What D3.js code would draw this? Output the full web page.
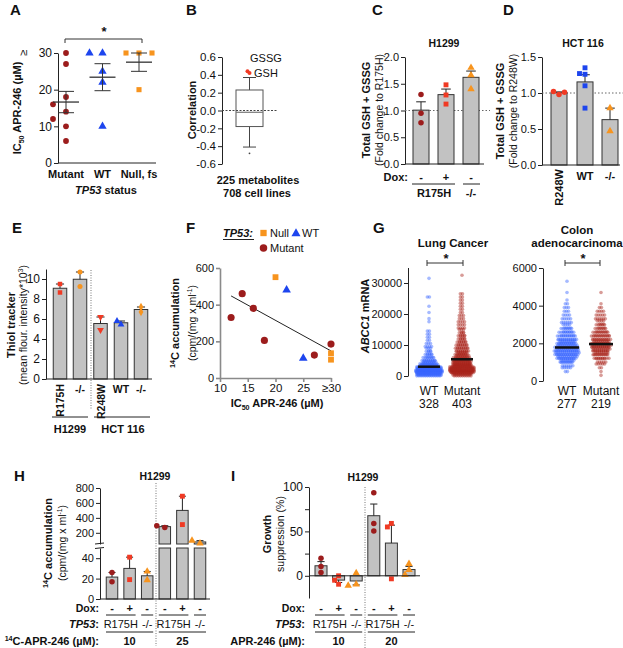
<!DOCTYPE html>
<html>
<head>
<meta charset="utf-8">
<script src="https://cdn.jsdelivr.net/npm/d3@7"></script>
<style>
  body { margin: 0; background: #fff; }
  svg { font-family: "Liberation Sans", Arial, Helvetica, sans-serif; }
  text { fill: #111; }
</style>
</head>
<body>
<script>
// ---- values ----

// A: IC50 of APR-246 by TP53 status
var aGroups = ["Mutant", "WT", "Null, fs"];
var aMutant = [30, 27, 18, 16, 14, 12, 10, 6];
var aWT = [30, 30, 25, 22, 10];
var aNull = [30, 30, 30, 20];

// B: correlation with APR-246 sensitivity, 225 metabolites
var bBox = [-0.41, -0.18, -0.02, 0.23, 0.37]; // low whisker, q1, median, q3, high whisker
var bOutliers = [-0.48];
var bHighlight = [0.44, 0.42];
var bHighlightNames = ["GSSG", "GSH"];

// C: H1299, fold change to R175H
var cDox = ["-", "+", "-"];
var cPoints = [[1.30, 0.95, 0.77], [1.48, 1.29, 1.12], [1.80, 1.66, 1.40]];

// D: HCT 116, fold change to R248W
var dGroups = ["R248W", "WT", "-/-"];
var dPoints = [[0.98, 1.02, 1.01], [1.35, 1.26, 1.27, 1.10, 0.79], [0.79, 0.47]];

// E: thiol tracker
var eGroups = ["R175H", "-/-", "R248W", "WT", "-/-"];
var ePoints = [[9.5, 8.65], [10.7, 9.25], [6.2, 4.9], [5.45, 5.8], [7.2, 6.7]];

// F: 14C accumulation vs IC50
var fMutantIC50 = [12, 14, 16, 18, 27, 30];
var fMutantAcc = [330, 460, 380, 205, 125, 185];
var fNullIC50 = [20, 30, 30];
var fNullAcc = [550, 135, 100];
var fWTIC50 = [22, 25];
var fWTAcc = [480, 108];

// G: ABCC1 mRNA, counts of samples per expression bin
var gLungN = ["328", "403"];
var gLungBin = 1000; // bins start at 0
var gLungWT = [60, 90, 70, 35, 20, 12, 8, 6, 5, 4, 3, 2, 2, 2, 2, 0, 0, 1, 1, 0, 1, 0, 1, 0, 0, 2, 0, 0, 0, 0, 0, 1];
var gLungMut = [37, 70, 60, 45, 35, 25, 20, 16, 14, 12, 10, 8, 7, 6, 5, 4, 4, 4, 3, 3, 2, 2, 2, 2, 2, 2, 2, 0, 0, 0, 0, 0, 1];
var gLungMeans = [3000, 5400];
var gColonN = ["277", "219"];
var gColonBin = 200;
var gColonWTStart = 400;
var gColonWT = [2, 5, 12, 22, 30, 37, 34, 30, 25, 20, 15, 11, 8, 6, 5, 4, 3, 3, 2, 1, 0, 1, 0, 0, 1];
var gColonMutStart = 200;
var gColonMut = [1, 1, 2, 5, 10, 16, 22, 26, 29, 24, 20, 16, 12, 9, 7, 6, 5, 4, 2, 1, 0, 0, 1];
var gColonMeans = [1780, 1960];

// H: 14C-APR-246 accumulation, H1299
var hDox = ["-", "+", "-", "-", "+", "-"];
var hPoints = [[26, 17], [41, 19], [27, 18.5], [270, 295], [690, 310], [60, 95]];
var hDose = ["10", "25"];

// I: growth suppression, H1299
var iDox = ["-", "+", "-", "-", "+", "-"];
var iPoints = [[19.8, 10.4, 3.7], [0, -5, -9.5], [3, -9.5, -11], [93.5, 59, 50.5], [59, 55, -3.4], [13.4, 6.7, 1.1]];
var iDose = ["10", "20"];

// ---- drawing ----
var cMut = "#9c1c1c", cRed = "#f03a24", cBlue = "#1d45ee", cOrange = "#f7941e";
var gBlue = "#3a66ff", gRed = "#a8241a";
var barFill = "#c2c2c2";

var svg = d3.select("body").append("svg").attr("width", 623).attr("height", 648);

function line(x1, y1, x2, y2, o) {
  o = o || {};
  return svg.append("line").attr("x1", x1).attr("y1", y1).attr("x2", x2).attr("y2", y2)
    .attr("stroke", o.color || "#222").attr("stroke-width", o.w || 1)
    .attr("stroke-dasharray", o.dash || null);
}

function label(x, y, parts, o) {
  o = o || {};
  var size = o.size || 11;
  var t = svg.append("text").attr("x", x).attr("y", y).attr("font-size", size)
    .attr("font-weight", o.bold ? "bold" : "normal").attr("text-anchor", o.anchor || "middle");
  if (o.rotate) t.attr("transform", "rotate(-90," + x + "," + y + ")");
  if (typeof parts === "string") parts = [[parts]];
  var shift = 0;
  parts.forEach(function (p) {
    var s = t.append("tspan").text(p[0]);
    var want = 0;
    if (p[1] === "sub") want = size * 0.3;
    if (p[1] === "sup") want = -size * 0.4;
    if (p[1] === "sub" || p[1] === "sup") s.attr("font-size", size * 0.65);
    if (p[1] === "i") s.attr("font-style", "italic");
    if (p[1] === "n") s.attr("font-weight", "normal");
    if (want !== shift) { s.attr("dy", want - shift); shift = want; }
  });
  return t;
}

function yAxis(x, scale, ticks, fmt, o) {
  o = o || {};
  var ax = d3.axisLeft(scale).tickValues(ticks).tickSize(4).tickSizeOuter(0).tickPadding(2);
  if (fmt) ax.tickFormat(fmt);
  var g = svg.append("g").attr("transform", "translate(" + x + ",0)").call(ax);
  g.attr("font-family", null).attr("font-size", o.size || 11);
  g.selectAll("path, line").attr("stroke", o.color || "#222").attr("stroke-width", o.w || 1);
  return g;
}

var SYM = { circle: d3.symbolCircle, square: d3.symbolSquare, triangle: d3.symbolTriangle,
  down: d3.symbolTriangle, diamond: d3.symbolDiamond };
function mark(x, y, shape, color, size) {
  svg.append("path").attr("d", d3.symbol(SYM[shape], size)())
    .attr("transform", "translate(" + x + "," + y + ")" + (shape === "down" ? " rotate(180)" : ""))
    .attr("fill", color);
}

// spread points that would overlap
function dodge(ys, minD, step) {
  var placed = [];
  return ys.map(function (y) {
    var ks = [0, -1, 1, -2, 2, -3, 3];
    for (var i = 0; i < ks.length; i++) {
      var x = ks[i] * step;
      if (placed.every(function (p) { return Math.hypot(p[0] - x, p[1] - y) >= minD; })) {
        placed.push([x, y]);
        return x;
      }
    }
    placed.push([0, y]);
    return 0;
  });
}

function stats(vals) {
  return { m: d3.mean(vals), se: d3.deviation(vals) / Math.sqrt(vals.length) };
}

function barSet(xs, y, base, w, sets, shapes, colors, msize, o) {
  o = o || {};
  sets.forEach(function (vals, i) {
    var cx = xs[i], s = stats(vals);
    var y0 = y(base), y1 = y(s.m);
    svg.append("rect").attr("x", cx - w / 2).attr("y", Math.min(y0, y1))
      .attr("width", w).attr("height", Math.abs(y1 - y0))
      .attr("fill", barFill).attr("stroke", "#333").attr("stroke-width", 1);
    var ye = y(s.m >= base ? s.m + s.se : s.m - s.se);
    line(cx, y1, cx, ye);
    line(cx - w * 0.3, ye, cx + w * 0.3, ye);
    var offs = dodge(vals.map(y), o.minD || 5, o.step || 4);
    vals.forEach(function (v, j) { mark(cx + offs[j], y(v), shapes[i], colors[i], msize); });
  });
}

function letter(x, y, s) { label(x, y, s, { bold: true, size: 15, anchor: "start" }); }

// ===== A =====
letter(10, 15, "A");
var yA = d3.scaleLinear().domain([0, 30]).range([163, 53]);
var xA = d3.scalePoint().domain(aGroups).range([66, 139]);
yAxis(58, yA, [0, 10, 20, 30], null, { size: 12 });
label(27, 53, "≥", { size: 11, rotate: true });
line(58, 163, 156, 163);
[aMutant, aWT, aNull].forEach(function (vals, i) {
  var cx = xA(aGroups[i]);
  var shape = ["circle", "triangle", "square"][i];
  var col = [cMut, cBlue, cOrange][i];
  var offs = dodge(vals.map(yA), 10, 6.5);
  vals.forEach(function (v, j) { mark(cx + offs[j], yA(v), shape, col, shape === "triangle" ? 30 : 26); });
  var s = stats(vals);
  line(cx - 13, yA(s.m), cx + 13, yA(s.m), { w: 1.3, color: "#333" });
  line(cx, yA(s.m - s.se), cx, yA(s.m + s.se), { color: "#333" });
  line(cx - 8, yA(s.m - s.se), cx + 8, yA(s.m - s.se), { color: "#333" });
  line(cx - 8, yA(s.m + s.se), cx + 8, yA(s.m + s.se), { color: "#333" });
  label(cx, 178, aGroups[i], { bold: true });
});
label(21, 108, [["IC"], ["50", "sub"], [" APR-246 (µM)"]], { bold: true, rotate: true });
label(106, 194, [["TP53", "i"], [" status"]], { bold: true });
line(65, 39, 142, 39, { color: "#333" });
line(65, 39, 65, 43, { color: "#333" });
line(142, 39, 142, 43, { color: "#333" });
label(104, 36, "*", { bold: true, size: 13 });

// ===== B =====
letter(186, 15, "B");
var yB = d3.scaleLinear().domain([-0.6, 0.6]).range([164, 57]);
yAxis(222, yB, [-0.6, -0.4, -0.2, 0, 0.2, 0.4, 0.6], function (d) { return d.toFixed(1); }, { size: 11.5 });
line(222, yB(0), 277, yB(0), { dash: "2,1.5", color: "#444" });
var bx = 249.5;
line(bx, yB(bBox[3]), bx, yB(bBox[4]), { color: "#444" });
line(bx, yB(bBox[0]), bx, yB(bBox[1]), { color: "#444" });
line(243, yB(bBox[4]), 256, yB(bBox[4]), { color: "#444" });
line(243, yB(bBox[0]), 256, yB(bBox[0]), { color: "#444" });
svg.append("rect").attr("x", 236).attr("y", yB(bBox[3])).attr("width", 27)
  .attr("height", yB(bBox[1]) - yB(bBox[3])).attr("fill", "none").attr("stroke", "#555");
line(236, yB(bBox[2]), 263, yB(bBox[2]), { color: "#777", w: 1.2 });
bOutliers.forEach(function (v) {
  svg.append("circle").attr("cx", bx).attr("cy", yB(v)).attr("r", 0.9).attr("fill", "#444");
});
bHighlight.forEach(function (v, i) {
  svg.append("circle").attr("cx", bx - 2 + i * 2).attr("cy", yB(v)).attr("r", 2).attr("fill", cRed);
});
label(250, yB(bHighlight[0]) - 9, bHighlightNames[0], { anchor: "start", size: 11 });
label(254, yB(bHighlight[1]) + 4, bHighlightNames[1], { anchor: "start", size: 11 });
label(196, 110, "Correlation", { bold: true, rotate: true });
label(258, 184, "225 metabolites", { bold: true });
label(257, 197, "708 cell lines", { bold: true });

// ===== C =====
letter(372, 15, "C");
var yC = d3.scaleLinear().domain([0, 2]).range([164, 57]);
var xC = [421, 446, 471];
yAxis(405, yC, [0, 0.5, 1, 1.5, 2], function (d) { return d.toFixed(1); });
line(405, yC(1), 490, yC(1), { dash: "1.5,2", color: "#666" });
barSet(xC, yC, 0, 16, cPoints, ["circle", "square", "triangle"], [cMut, cRed, cOrange], 24);
line(405, 164, 484, 164);
label(444, 47, "H1299", { bold: true, size: 10.5 });
label(408, 181, "Dox:", { bold: true, anchor: "end" });
cDox.forEach(function (s, i) { label(xC[i], 181, s, { bold: true }); });
line(412, 184, 455, 184);
line(463, 184, 480, 184);
label(434, 197, "R175H", { bold: true });
label(471, 197, "-/-", { bold: true });
label(370, 110, "Total GSH + GSSG", { bold: true, rotate: true });
label(383, 110, "(Fold change to R175H)", { rotate: true, size: 10.5 });

// ===== D =====
letter(503, 15, "D");
var yD = d3.scaleLinear().domain([0, 1.5]).range([165, 57]);
var xD = [559, 585, 610];
yAxis(542, yD, [0, 0.5, 1, 1.5], function (d) { return d.toFixed(1); });
line(542, yD(1), 623, yD(1), { dash: "1.5,2", color: "#666" });
barSet(xD, yD, 0, 16, dPoints, ["circle", "square", "triangle"], [cRed, cBlue, cOrange], 24, { minD: 5, step: 5.5 });
line(542, 165, 620, 165);
label(583, 47, "HCT 116", { bold: true, size: 10.5 });
label(563, 169, dGroups[0], { bold: true, rotate: true, anchor: "end" });
label(585, 180, dGroups[1], { bold: true });
label(610, 180, dGroups[2], { bold: true });
label(504, 111, "Total GSH + GSSG", { bold: true, rotate: true });
label(517, 111, "(Fold change to R248W)", { rotate: true, size: 10.5 });

// ===== E =====
letter(12, 233, "E");
var yE = d3.scaleLinear().domain([0, 11]).range([379, 269]);
var xE = [60, 80, 100.5, 121, 141];
yAxis(46, yE, [0, 2, 4, 6, 8, 10], null, { size: 12 });
line(91, 270, 91, 410, { dash: "1,1.5", color: "#777" });
barSet(xE, yE, 0, 13.5, ePoints, ["square", "circle", "down", "triangle", "diamond"],
  [cRed, cOrange, cRed, cBlue, cOrange], 20);
line(46, 379, 152, 379);
eGroups.forEach(function (s, i) {
  if (s.length > 3) label(xE[i] + 4, 384, s, { bold: true, rotate: true, anchor: "end", size: 10.5 });
  else label(xE[i], 393, s, { bold: true, size: 10.5 });
});
line(52, 417, 88, 417);
line(94, 417, 150, 417);
label(70, 433, "H1299", { bold: true });
label(123, 433, "HCT 116", { bold: true });
label(15, 325, "Thiol tracker", { bold: true, rotate: true });
label(27, 325, [["(mean flour. intensity*10"], ["3", "sup"], [")"]], { rotate: true, size: 10.5 });

// ===== F =====
letter(186, 233, "F");
var xF = d3.scaleLinear().domain([10, 30]).range([220, 331]);
var yF = d3.scaleLinear().domain([0, 600]).range([378, 268]);
yAxis(220, yF, [0, 200, 400, 600], null, { color: "#8a8a8a", w: 1.6 });
var fx = svg.append("g").attr("transform", "translate(0,378)")
  .call(d3.axisBottom(xF).tickValues([10, 15, 20, 25, 30]).tickSize(4).tickSizeOuter(0).tickPadding(2)
    .tickFormat(function (d) { return d === 30 ? "≥30" : d; }));
fx.attr("font-family", null).attr("font-size", 11.5);
fx.selectAll("path, line").attr("stroke", "#8a8a8a").attr("stroke-width", 1.6);
// least squares fit through all cell lines
var allX = fMutantIC50.concat(fNullIC50, fWTIC50), allY = fMutantAcc.concat(fNullAcc, fWTAcc);
var mx = d3.mean(allX), my = d3.mean(allY);
var slope = d3.sum(allX, function (v, i) { return (v - mx) * (allY[i] - my); }) /
  d3.sum(allX, function (v) { return (v - mx) * (v - mx); });
var x0 = d3.min(allX), x1 = d3.max(allX);
line(xF(x0), yF(my + slope * (x0 - mx)), xF(x1), yF(my + slope * (x1 - mx)), { color: "#222" });
fMutantIC50.forEach(function (v, i) { mark(xF(v), yF(fMutantAcc[i]), "circle", cMut, 40); });
fNullIC50.forEach(function (v, i) { mark(xF(v), yF(fNullAcc[i]), "square", cOrange, 34); });
fWTIC50.forEach(function (v, i) { mark(xF(v), yF(fWTAcc[i]), "triangle", cBlue, 32); });
label(277, 407, [["IC"], ["50", "sub"], [" APR-246 (µM)"]], { bold: true });
label(179, 323, [["14", "sup"], ["C accumulation"]], { bold: true, rotate: true });
label(196, 323, [["(cpm/(mg x ml"], ["-1", "sup"], [")"]], { rotate: true, size: 10.5 });
label(223, 237, [["TP53:", "i"]], { bold: true, anchor: "start" });
line(223, 239.5, 254, 239.5, { w: 1 });
mark(263.5, 233, "square", cOrange, 40);
label(270, 237, "Null", { anchor: "start" });
mark(296, 233.5, "triangle", cBlue, 36);
label(302, 237, "WT", { anchor: "start" });
mark(263.5, 248, "circle", cMut, 44);
label(270, 252, "Mutant", { anchor: "start" });

// ===== G =====
letter(373, 233, "G");
// beeswarm: width of each bin row grows with its count
function swarm(counts, start, bw, y, cx, color, k) {
  var sp = 2.1;
  counts.forEach(function (n, i) {
    if (!n) return;
    var yc = y(start + (i + 0.5) * bw);
    var h = Math.abs(y(start + bw) - y(start));
    var half = Math.min(12.5, k * Math.sqrt(n));
    var cols = Math.max(1, Math.round(2 * half / sp) + 1);
    var rows = Math.ceil(n / cols), base = Math.floor(n / rows), extra = n % rows;
    for (var r = 0; r < rows; r++) {
      var m = base + (r < extra ? 1 : 0);
      var yy = rows > 1 ? yc + (r / (rows - 1) - 0.5) * h * 0.9 : yc;
      var step = m > 1 ? Math.min(sp, 2 * half / (m - 1)) : 0;
      for (var j = 0; j < m; j++) {
        svg.append("circle").attr("cx", cx + (j - (m - 1) / 2) * step + (r % 2 ? 0.6 : -0.6) * (m > 1))
          .attr("cy", yy).attr("r", 1.8)
          .attr("fill", color).attr("fill-opacity", 0.45);
      }
    }
  });
}
// lung
var yGL = d3.scaleLinear().domain([0, 35000]).range([376, 267.5]);
var xGL = [429, 462];
yAxis(408, yGL, [0, 10000, 20000, 30000], d3.format("d"));
swarm(gLungWT, 0, gLungBin, yGL, xGL[0], gBlue, 1.6);
swarm(gLungMut, 0, gLungBin, yGL, xGL[1], gRed, 1.6);
gLungMeans.forEach(function (v, i) { line(xGL[i] - 11, yGL(v), xGL[i] + 11, yGL(v), { w: 2.5, color: "#111" }); });
label(453, 247, "Lung Cancer", { bold: true, size: 11.5 });
line(427, 263, 463, 263, { color: "#333" });
line(427, 260, 427, 266, { color: "#333" });
line(463, 260, 463, 266, { color: "#333" });
label(446, 263, "*", { bold: true, size: 13 });
label(xGL[0], 395, "WT", { size: 12 });
label(xGL[1], 395, "Mutant", { size: 12 });
label(xGL[0], 408, gLungN[0], { size: 12 });
label(xGL[1], 408, gLungN[1], { size: 12 });
label(369, 316, [["ABCC1", "i"], [" mRNA"]], { bold: true, rotate: true });
// colon
var yGC = d3.scaleLinear().domain([0, 6000]).range([381, 268]);
var xGC = [567, 601];
yAxis(543, yGC, [0, 2000, 4000, 6000], d3.format("d"));
swarm(gColonWT, gColonWTStart, gColonBin, yGC, xGC[0], gBlue, 2);
swarm(gColonMut, gColonMutStart, gColonBin, yGC, xGC[1], gRed, 2);
gColonMeans.forEach(function (v, i) { line(xGC[i] - 12, yGC(v), xGC[i] + 12, yGC(v), { w: 2.5, color: "#111" }); });
label(577, 234, "Colon", { bold: true, size: 11.5 });
label(577, 247, "adenocarcinoma", { bold: true, size: 11.5 });
line(565, 263, 600, 263, { color: "#333" });
line(565, 260, 565, 266, { color: "#333" });
line(600, 260, 600, 266, { color: "#333" });
label(583, 263, "*", { bold: true, size: 13 });
label(xGC[0], 395, "WT", { size: 12 });
label(xGC[1], 395, "Mutant", { size: 12 });
label(xGC[0], 408, gColonN[0], { size: 12 });
label(xGC[1], 408, gColonN[1], { size: 12 });

// ===== H =====
letter(14, 481, "H");
var yHL = d3.scaleLinear().domain([0, 50]).range([599, 548]);
var yHU = d3.scaleLinear().domain([50, 800]).range([544, 488]);
function yH(v) { return v <= 50 ? yHL(v) : yHU(v); }
var xH = d3.scalePoint().domain(d3.range(6)).range([112, 200]);
yAxis(100, yHL, [0, 20, 40]);
yAxis(100, yHU, [200, 400, 600, 800]);
line(95, 544, 104, 543, { w: 1 });
line(95, 548.5, 104, 547.5, { w: 1 });
line(156, 483, 156, 646, { dash: "1,1.5", color: "#777" });
var hShapes = ["circle", "square", "triangle", "circle", "square", "triangle"];
var hCols = [cMut, cRed, cOrange, cMut, cRed, cOrange];
hPoints.forEach(function (vals, i) {
  var cx = xH(i), s = stats(vals), w = 11.5;
  if (s.m <= 50) {
    svg.append("rect").attr("x", cx - w / 2).attr("y", yHL(s.m)).attr("width", w).attr("height", 599 - yHL(s.m))
      .attr("fill", barFill).attr("stroke", "#333");
  } else {
    svg.append("rect").attr("x", cx - w / 2).attr("y", 548).attr("width", w).attr("height", 51)
      .attr("fill", barFill).attr("stroke", "#333");
    svg.append("rect").attr("x", cx - w / 2).attr("y", yHU(s.m)).attr("width", w).attr("height", 544 - yHU(s.m))
      .attr("fill", barFill).attr("stroke", "#333");
  }
  var ye = yH(s.m + s.se);
  line(cx, yH(s.m), cx, ye);
  line(cx - 3.5, ye, cx + 3.5, ye);
  var offs = dodge(vals.map(yH), 5, 4);
  vals.forEach(function (v, j) { mark(cx + offs[j], yH(v), hShapes[i], hCols[i], 24); });
});
line(100, 599, 210, 599);
label(155, 480, "H1299", { bold: true, size: 10.5 });
label(52, 543, [["14", "sup"], ["C accumulation"]], { bold: true, rotate: true });
label(66, 543, [["(cpm/(mg x ml"], ["-1", "sup"], [")"]], { rotate: true, size: 10.5 });

function rows(xs, xEnd, dox, doseLabel, doses) {
  label(xEnd, 612, "Dox:", { bold: true, anchor: "end", size: 10.5 });
  dox.forEach(function (s, i) { label(xs[i], 612, s, { bold: true }); });
  [[0, 1], [2, 2], [3, 4], [5, 5]].forEach(function (p) { line(xs[p[0]] - 6, 615, xs[p[1]] + 6, 615); });
  label(xEnd, 628, [["TP53", "i"], [":"]], { bold: true, anchor: "end" });
  label((xs[0] + xs[1]) / 2, 628, "R175H");
  label(xs[2], 628, "-/-");
  label((xs[3] + xs[4]) / 2, 628, "R175H");
  label(xs[5], 628, "-/-");
  line(xs[0] - 6, 632, xs[2] + 6, 632);
  line(xs[3] - 6, 632, xs[5] + 6, 632);
  label(xEnd, 645, doseLabel, { bold: true, anchor: "end" });
  label(xs[1], 645, doses[0], { bold: true });
  label(xs[4], 645, doses[1], { bold: true });
}
rows(d3.range(6).map(xH), 99, hDox, [["14", "sup"], ["C-APR-246 (µM):"]], hDose);

// ===== I =====
letter(231, 481, "I");
var yI = d3.scaleLinear().domain([-25, 100]).range([598, 487]);
var xI = d3.scalePoint().domain(d3.range(6)).range([321, 409]);
yAxis(309, yI, [0, 25, 50, 75, 100], function (d) { return d % 50 === 0 ? d : ""; }, { size: 12 });
line(365, 487, 365, 648, { dash: "1,1.5", color: "#777" });
barSet(d3.range(6).map(xI), yI, 0, 12, iPoints, hShapes, hCols, 24, { minD: 5, step: 4 });
line(309, yI(0), 420, yI(0));
label(363, 481, "H1299", { bold: true, size: 10.5 });
label(271, 534, "Growth", { bold: true, rotate: true });
label(284, 534, "suppression (%)", { rotate: true, size: 10.5 });
rows(d3.range(6).map(xI), 305, iDox, "APR-246 (µM):", iDose);
</script>
</body>
</html>
